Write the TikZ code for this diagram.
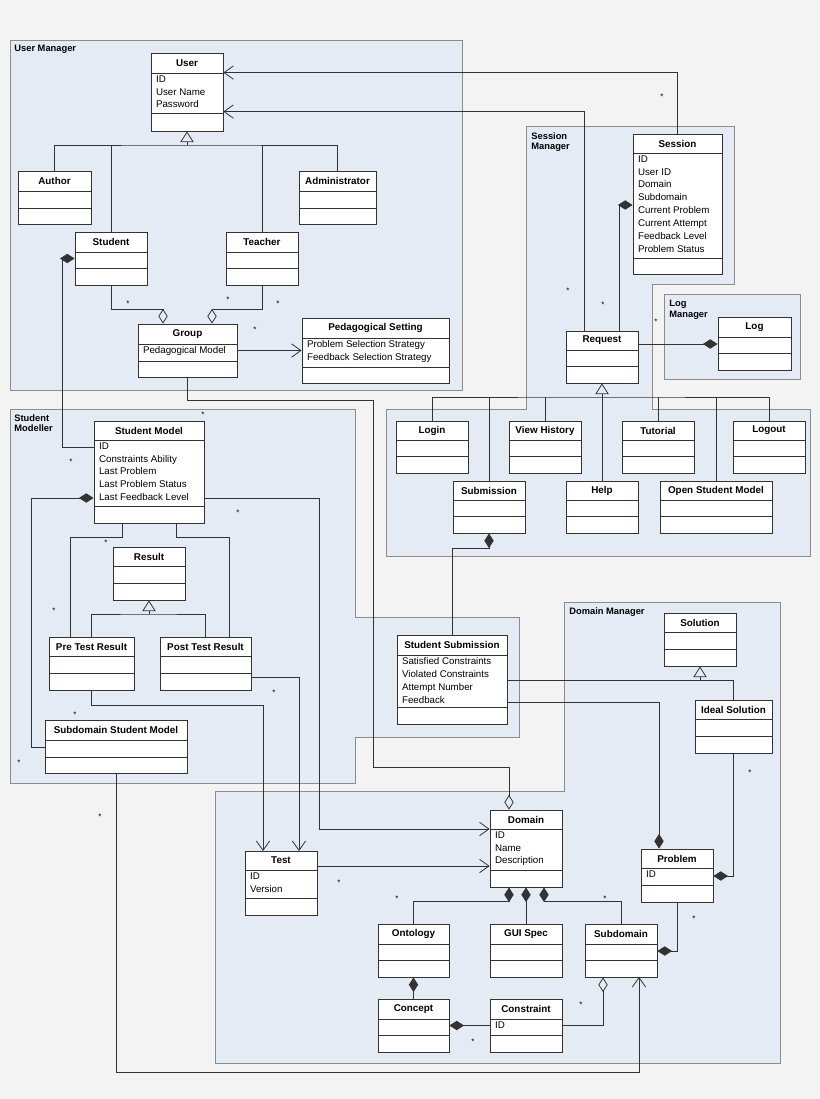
\documentclass[tikz,border=0pt]{standalone}
\usepackage{fontspec}
\setmainfont{Liberation Sans}
\usetikzlibrary{arrows.meta,calc,fit}

\definecolor{bgc}{HTML}{F3F3F3}
\definecolor{pkgc}{HTML}{E5EBF5}

\begin{document}
\begin{tikzpicture}[x=0.75pt,y=-0.75pt,
	line width=0.6pt, draw=black!80,
	box/.style={draw=black!80, fill=white},
	pkg/.style={draw=black!45, fill=pkgc},
	title/.style={font=\fontsize{7.4}{8}\selectfont\bfseries, inner sep=0pt},
	attr/.style={font=\fontsize{7.3}{9.7}\selectfont, align=left, anchor=north west, inner sep=0pt, xshift=3.5pt, yshift=-1.5pt},
	plab/.style={font=\fontsize{7}{8}\selectfont\bfseries, align=left, anchor=north west, inner sep=0pt},
	mult/.style={font=\fontsize{6}{6}\selectfont, inner sep=0pt},
	open/.style={-{Straight Barb[length=7pt,width=10pt]}},
	gen/.style={-{Triangle[open,length=8pt,width=10pt]}},
	fdiam/.style={{Diamond[length=11pt,width=7pt]}-},
	odiam/.style={{Diamond[open,length=11pt,width=7pt]}-}
]

\fill[bgc] (0,0) rectangle (820,1099);
\path [use as bounding box] (0,0) rectangle (820,1099);

% PACKAGES
\filldraw[pkg] (10,40) rectangle (462,390);
\filldraw[pkg] (526,126) -- (734,126) -- (734,284) -- (652,284) -- (652,409) -- (810,409)
	-- (810,556) -- (386,556) -- (386,409) -- (526,409) -- cycle;
\filldraw[pkg] (664,294) rectangle (800,379);
\filldraw[pkg] (10,409) -- (355,409) -- (355,617) -- (519,617) -- (519,737) -- (355,737)
	-- (355,783) -- (10,783) -- cycle;
\filldraw[pkg] (564,602) -- (780,602) -- (780,1063) -- (215,1063) -- (215,791) -- (564,791) -- cycle;

\node[plab] at (14,45) {User Manager};
\node[plab] at (531,132) {Session\\Manager};
\node[plab] at (669,300) {Log\\Manager};
\node[plab] at (14,414) {Student\\Modeller};
\node[plab] at (569,607) {Domain Manager};

% Function: class box
% #1 : name
% #2,#3 : top left
% #4,#5 : bottom right
% #6 : header line
% #7 : attribute line
% #8 : title
% #9 : attributes
\newcommand{\umlclass}[9]{%
	\draw[box] (#2,#3) rectangle (#4,#5);
	\draw (#2,#6) -- (#4,#6) (#2,#7) -- (#4,#7);
	\node[title] at ({(#2+#4)/2},{(#3+#6)/2}) {#8};
	\node[attr] at (#2,#6) {#9};
	\node[inner sep=0pt, fit={(#2,#3) (#4,#5)}] (#1) {}%
}

% USER MANAGER
\umlclass{user}{151}{53}{223}{131}{73}{113}{User}{ID\\User Name\\Password};
\umlclass{author}{18}{171}{91}{224}{191}{208}{Author}{};
\umlclass{admin}{299}{171}{376}{224}{191}{208}{Administrator}{};
\umlclass{student}{75}{232}{147}{285}{252}{268}{Student}{};
\umlclass{teacher}{226}{232}{298}{285}{252}{268}{Teacher}{};
\umlclass{group}{138}{324}{237}{377}{344}{361}{Group}{Pedagogical Model};
\umlclass{pedset}{302}{318}{449}{383}{338}{367}{Pedagogical Setting}{Problem Selection Strategy\\Feedback Selection Strategy};

% SESSION MANAGER
\umlclass{session}{633}{134}{722}{274}{153}{258}{Session}{ID\\User ID\\Domain\\Subdomain\\Current Problem\\Current Attempt\\Feedback Level\\Problem Status};
\umlclass{request}{566}{331}{638}{383}{350}{366}{Request}{};
\umlclass{log}{718}{317}{791}{370}{337}{353}{Log}{};
\umlclass{login}{396}{421}{468}{473}{440}{456}{Login}{};
\umlclass{viewhist}{509}{421}{581}{473}{440}{456}{View History}{};
\umlclass{tutorial}{622}{421}{694}{473}{440}{456}{Tutorial}{};
\umlclass{logout}{733}{421}{805}{473}{440}{456}{Logout}{};
\umlclass{submission}{453}{481}{525}{533}{500}{516}{Submission}{};
\umlclass{help}{566}{481}{638}{533}{500}{516}{Help}{};
\umlclass{openmodel}{660}{481}{772}{533}{500}{516}{Open Student Model}{};

% STUDENT MODELLER
\umlclass{stmodel}{94}{421}{204}{523}{440}{506}{Student Model}{ID\\Constraints Ability\\Last Problem\\Last Problem Status\\Last Feedback Level};
\umlclass{result}{113}{547}{185}{600}{566}{583}{Result}{};
\umlclass{pretest}{49}{637}{134}{690}{656}{673}{Pre Test Result}{};
\umlclass{posttest}{160}{637}{251}{690}{656}{673}{Post Test Result}{};
\umlclass{subsm}{45}{720}{187}{773}{740}{757}{Subdomain Student Model}{};
\umlclass{stsub}{397}{635}{507}{724}{655}{707}{Student Submission}{Satisfied Constraints\\Violated Constraints\\Attempt Number\\Feedback};

% DOMAIN MANAGER
\umlclass{solution}{664}{613}{736}{666}{632}{649}{Solution}{};
\umlclass{ideal}{695}{700}{772}{753}{719}{736}{Ideal Solution}{};
\umlclass{domain}{490}{810}{562}{887}{829}{870}{Domain}{ID\\Name\\Description};
\umlclass{test}{245}{851}{317}{915}{870}{898}{Test}{ID\\Version};
\umlclass{problem}{641}{849}{713}{902}{868}{885}{Problem}{ID};
\umlclass{ontology}{378}{924}{449}{977}{944}{960}{Ontology}{};
\umlclass{guispec}{490}{924}{562}{977}{944}{960}{GUI Spec}{};
\umlclass{subdomain}{585}{924}{657}{977}{944}{960}{Subdomain}{};
\umlclass{concept}{378}{999}{449}{1052}{1019}{1035}{Concept}{};
\umlclass{constraint}{490}{999}{562}{1052}{1019}{1035}{Constraint}{ID};

% GENERALIZATIONS
\coordinate (ugen) at (187,145);
\draw[gen] (ugen) -- (user.south);
\draw (author.north) |- (ugen) -| (admin.north);
\draw (student.north) -- (student.north |- ugen);
\draw (teacher.north) -- (teacher.north |- ugen);

\coordinate (rgen) at (602,397);
\draw[gen] (rgen) -- (request.south);
\draw (login.north) |- (rgen) -| (logout.north);
\draw (submission.north) -- (submission.north |- rgen);
\draw (viewhist.north) -- (viewhist.north |- rgen);
\draw (help.north) -- (rgen);
\draw (tutorial.north) -- (tutorial.north |- rgen);
\draw (openmodel.north) -- (openmodel.north |- rgen);

\coordinate (resgen) at (149,614);
\draw[gen] (resgen) -- (result.south);
\draw (pretest.north) |- (resgen) -| (posttest.north);

\coordinate (solgen) at (700,680);
\draw[gen] (solgen) -- (solution.south);
\draw (ideal.north) |- (solgen);

% ASSOCIATIONS
\draw[open] (session.north) |- ($(user.north east)+(0,20)$);
\draw[open] ($(request.north)+(-18,0)$) |- ($(user.north east)+(0,59)$);
\draw[open] (group.east) -- (pedset.west);
\draw[open] (stmodel.east |- 0,498) -| (319,829) -- (domain.west |- 0,829);
\draw[open] (pretest.south) |- (263,705) -- (263,851);
\draw[open] (posttest.east |- 0,677) -| (299,851);
\draw[open] (subsm.south) |- (639,1072) -- (639,977);
\draw[open] (test.east |- 0,866) -- (domain.west |- 0,866);
\draw (stsub.east |- 0,680) -- (solgen);
\draw (122,523) |- (70,537) -- (70,637);
\draw (176,523) |- (229,537) -- (229,637);

% AGGREGATIONS / COMPOSITIONS
\draw[odiam] ($(group.north)+(-24.5,0)$) -- ++(0,-14) -| (student.south);
\draw[odiam] ($(group.north)+(24.5,0)$) -- ++(0,-14) -| (teacher.south);
\draw[odiam] ($(domain.north)+(-17,0)$) |- (373,767) |- (187.5,400) -- (group.south);
\draw[fdiam] (student.west) -| (62,447) -- (stmodel.west |- 0,447);
\draw[fdiam] (stmodel.west |- 0,498) -| (31,747) -- (subsm.west |- 0,747);
\draw[fdiam] (session.west |- 0,205) -| ($(request.north)+(17,0)$);
\draw[fdiam] (log.west |- 0,344) -- (request.east |- 0,344);
\draw[fdiam] (submission.south) -- ++(0,15) -| (stsub.north);
\draw[fdiam] ($(problem.north)+(-18,0)$) |- (stsub.east |- 0,702);
\draw[fdiam] (problem.east |- 0,876) -| (ideal.south);
\draw[fdiam] (subdomain.east |- 0,951) -| (problem.south);
\draw[fdiam] ($(domain.south)+(-17,0)$) -- ++(0,14) -| (ontology.north);
\draw[fdiam] (domain.south) -- (guispec.north);
\draw[fdiam] ($(domain.south)+(18,0)$) -- ++(0,14) -| (subdomain.north);
\draw[fdiam] (ontology.south) -- (concept.north);
\draw[fdiam] (concept.east) -- (constraint.west);
\draw[odiam] ($(subdomain.south)+(-18,0)$) |- (constraint.east);

% MULTIPLICITIES
\foreach \p in {(662,97),(568,291),(603,305),(656,322),(128,304),(228,300),(278,304),
	(255,330),(203,415),(71,462),(238,513),(106,543),(54,611),(274,693),(75,715),
	(19,763),(100,817),(750,773),(339,883),(397,899),(605,899),(694,919),(581,1005),
	(473,1042)}
	\node[mult] at \p {*};

\end{tikzpicture}
\end{document}
